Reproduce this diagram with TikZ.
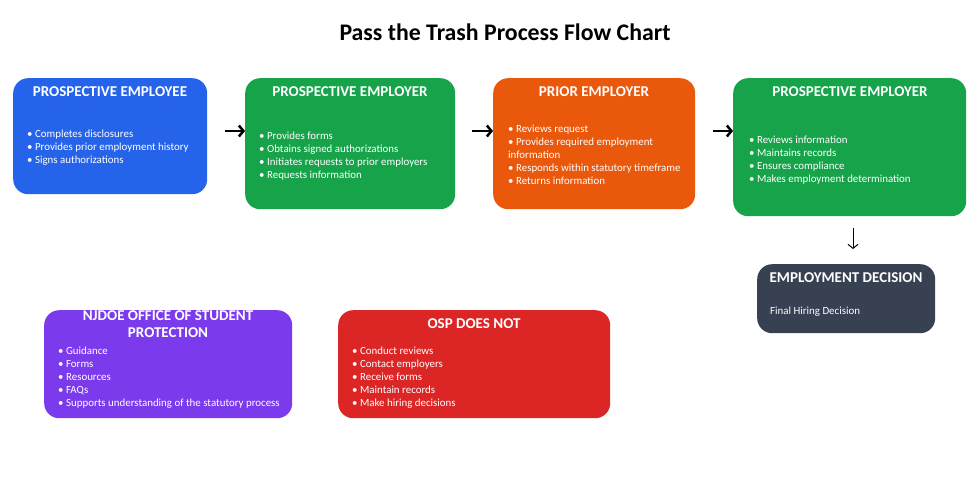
\documentclass[tikz,border=0pt]{standalone}
\usepackage{fontspec}
\setmainfont{Carlito}
\usetikzlibrary{arrows.meta}
\definecolor{cblue}{HTML}{2563EB}
\definecolor{cgreen}{HTML}{16A34A}
\definecolor{corange}{HTML}{EA580C}
\definecolor{cpurple}{HTML}{7C3AED}
\definecolor{cred}{HTML}{DC2626}
\definecolor{cdark}{HTML}{374151}
\begin{document}
\begin{tikzpicture}[x=1pt,y=-1pt,
  box/.style={rounded corners=15pt, draw=none, anchor=north west, inner sep=0pt},
  hdr/.style={text=white, font=\bfseries\fontsize{15}{17}\selectfont, inner sep=0pt, anchor=base, align=center},
  lst/.style={text=white, font=\fontsize{10.9}{13}\selectfont, inner sep=0pt, anchor=base west, align=left},
  flow/.style={line width=2.5pt, -{Straight Barb[length=4.5pt,width=11pt]}},
  down/.style={line width=1pt, -{Straight Barb[length=4pt,width=10pt]}}]
\useasboundingbox (0,0) rectangle (979,479);

\node[font=\bfseries\fontsize{23.8}{28}\selectfont, inner sep=0pt] (title) at (505,32) {Pass the Trash Process Flow Chart};

% boxes
\node[box, fill=cblue, minimum width=194pt, minimum height=116pt] (b1) at (13,78) {};
\node[box, fill=cgreen, minimum width=210pt, minimum height=131pt] (b2) at (245,78) {};
\node[box, fill=corange, minimum width=202pt, minimum height=131pt] (b3) at (493,78) {};
\node[box, fill=cgreen, minimum width=233pt, minimum height=138pt] (b4) at (733,78) {};
\node[box, fill=cdark, minimum width=178pt, minimum height=69pt] (b5) at (757,264) {};
\node[box, fill=cpurple, minimum width=248pt, minimum height=108pt] (b6) at (44,310) {};
\node[box, fill=cred, minimum width=272pt, minimum height=108pt] (b7) at (338,310) {};

% headers (base = last line's baseline)
\node[hdr] (h1) at (110,96) {PROSPECTIVE EMPLOYEE};
\node[hdr] (h2) at (350,96) {PROSPECTIVE EMPLOYER};
\node[hdr] (h3) at (594,96) {PRIOR EMPLOYER};
\node[hdr] (h4) at (850,96) {PROSPECTIVE EMPLOYER};
\node[hdr] (h5) at (846,282) {EMPLOYMENT DECISION};
\node[hdr, font=\bfseries\fontsize{15}{17}\selectfont] (h6) at (168,337) {NJDOE OFFICE OF STUDENT\\PROTECTION};
\node[hdr] (h7) at (474,328) {OSP DOES NOT};

% lists (base = last line's baseline)
\node[lst] (l1) at (27,163.5) {• Completes disclosures\\• Provides prior employment history\\• Signs authorizations};
\node[lst] (l2) at (259,178.5) {• Provides forms\\• Obtains signed authorizations\\• Initiates requests to prior employers\\• Requests information};
\node[lst] (l3) at (508,184.5) {• Reviews request\\• Provides required employment\\information\\• Responds within statutory timeframe\\• Returns information};
\node[lst] (l4) at (749,182.5) {• Reviews information\\• Maintains records\\• Ensures compliance\\• Makes employment determination};
\node[lst] (l5) at (770,314) {Final Hiring Decision};
\node[lst] (l6) at (58,406.5) {• Guidance\\• Forms\\• Resources\\• FAQs\\• Supports understanding of the statutory process};
\node[lst] (l7) at (352,406.5) {• Conduct reviews\\• Contact employers\\• Receive forms\\• Maintain records\\• Make hiring decisions};

% connectors
\coordinate (s1) at (225,131);
\coordinate (s2) at (472,131);
\coordinate (s3) at (713,131);
\coordinate (s4) at (853,228);
\coordinate (e4) at (853,249);
\draw[flow] (s1) -- (s1 -| b2.west);
\draw[flow] (s2) -- (s2 -| b3.west);
\draw[flow] (s3) -- (s3 -| b4.west);
\draw[down] (s4) -- (e4);
\end{tikzpicture}
\end{document}
